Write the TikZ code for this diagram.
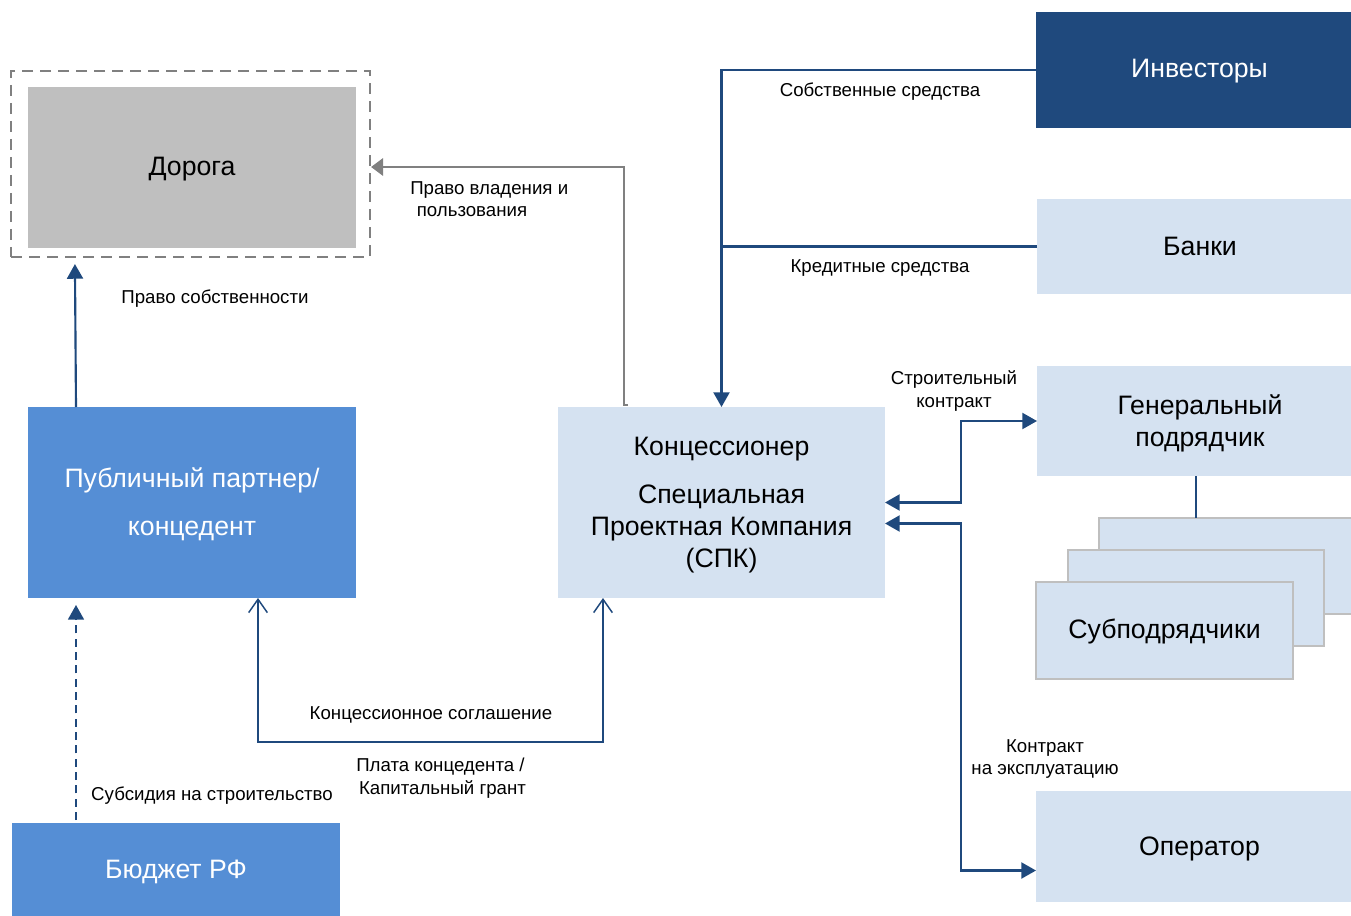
\documentclass[tikz,border=0pt]{standalone}
\usepackage{fontspec}
\setmainfont{Liberation Sans}
\usetikzlibrary{arrows.meta,fit,calc}
\definecolor{navy}{HTML}{1F497D}
\definecolor{midblue}{HTML}{558ED5}
\definecolor{lightblue}{HTML}{D5E2F1}
\definecolor{roadgray}{HTML}{BFBFBF}
\definecolor{linegray}{HTML}{808080}
\definecolor{subborder}{HTML}{BFBFBF}
\begin{document}
\begin{tikzpicture}[x=0.75pt,y=-0.75pt,
  box/.style={inner sep=0pt, outer sep=0pt, align=center, font=\fontsize{20}{24}\selectfont},
  darkbox/.style={box, fill=navy, text=white},
  midbox/.style={box, fill=midblue, text=white},
  lightbox/.style={box, fill=lightblue, text=black},
  subbox/.style={box, fill=lightblue, draw=subborder, line width=1.5pt},
  lbl/.style={font=\fontsize{14}{16.8}\selectfont, align=center, inner sep=0pt, text=black},
  conn/.style={draw=navy, line width=1.6pt},
  tri/.style={conn, -{Triangle[length=11pt,width=12pt]}},
  tritri/.style={conn, {Triangle[length=11pt,width=12pt]}-{Triangle[length=11pt,width=12pt]}},
  barb/.style={draw=navy, line width=1.1pt, {Straight Barb[length=10pt,width=14pt]}-{Straight Barb[length=10pt,width=14pt]}},
  grayarr/.style={draw=linegray, line width=1.8pt, -{Triangle[length=9pt,width=13pt]}},
]
\useasboundingbox (0,0) rectangle (1351,916);

% nodes
\node[draw=linegray, dashed, dash pattern=on 8.5pt off 5pt, line width=1.6pt, inner sep=0pt, fit={(11,71)(370,257)}] (roadframe) {};
\node[box, fill=roadgray, fit={(28,87)(356,248)}] (road) {};
\node[box] at ($(road.center)+(0,2)$) {Дорога};

\node[midbox, fit={(28,407)(356,598)}] (pub) {};
\node[box, text=white, font=\fontsize{20}{36}\selectfont] at ($(pub.center)+(0,2)$) {Публичный партнер/\\концедент};

\node[midbox, fit={(12,823)(340,920)}] (bud) {};
\node[box, text=white] at ($(bud.center)+(0,0)$) {Бюджет РФ};

\node[lightbox, fit={(558,407)(885,598)}] (spk) {};
\node[box] at ($(spk.center)+(0,3)$) {Концессионер\\[12pt]Специальная\\Проектная Компания\\(СПК)};

\node[darkbox, fit={(1036,12)(1363,128)}] (inv) {};
\node[box, text=white] at ($(inv.center)+(0,1)$) {Инвесторы};

\node[lightbox, fit={(1037,199)(1363,294)}] (bank) {};
\node[box] at (bank.center) {Банки};

\node[lightbox, fit={(1037,366)(1363,476)}] (gen) {};
\node[box] at ($(gen.center)+(0,2)$) {Генеральный\\подрядчик};

\node[subbox, fit={(1099,518)(1370,614)}] (sub3) {};
\node[subbox, fit={(1068,550)(1324,646)}] (sub2) {};
\node[subbox, fit={(1036,582)(1293,679)}] (sub1) {};
\node[box] at ($(sub1.center)+(0,1)$) {Субподрядчики};

\node[lightbox, fit={(1036,791)(1363,902)}] (op) {};
\node[box] at ($(op.center)+(0,2)$) {Оператор};

% connectors
\draw[tri] ($(pub.north west)+(48,0)$) -- ($(roadframe.south west)+(65,6)$);
\draw[tri, dashed, dash pattern=on 6pt off 4pt, line width=1.3pt] ($(bud.north west)+(64,-3)$) -- ($(pub.south west)+(48,7)$);
\draw[barb] ($(pub.south west)+(230,0)$) -- ++(0,144) -| ($(spk.south west)+(45,0)$);
\draw[grayarr] ($(spk.north west)+(70,-2)$) -- ++(-4,0) |- ($(roadframe.east)+(0,3)$);
\draw[tri] (inv.west) -| (spk.north);
\draw[conn] (bank.west) -- (bank.west -| spk.north);
\draw[tritri] (spk.east) -- ++(76,0) |- (gen.west);
\draw[tritri] ($(spk.east)+(0,21)$) -- ++(76,0) |- ($(op.west)+(0,24)$);
\draw[conn] (gen.south) ++(-4,0) -- ($(sub3.north west)+(97,0)$);

% labels
\node[lbl] (l1) at (215,299) {Право собственности};
\node[lbl, align=left, anchor=west] (l2) at (410,199) {Право владения и\\\hspace{0.35em}пользования};
\node[lbl] (l3) at (880,92) {Собственные средства};
\node[lbl] (l4) at (880,268) {Кредитные средства};
\node[lbl] (l5) at (954,391) {Строительный\\контракт};
\node[lbl] (l6) at (431,715) {Концессионное соглашение};
\node[lbl, align=left, anchor=west] (l7) at (356,778) {Плата концедента /\\\hspace{0.15em}Капитальный грант};
\node[lbl] (l8) at (212,796) {Субсидия на строительство};
\node[lbl] (l9) at (1045,759) {Контракт\\на эксплуатацию};
\end{tikzpicture}
\end{document}
